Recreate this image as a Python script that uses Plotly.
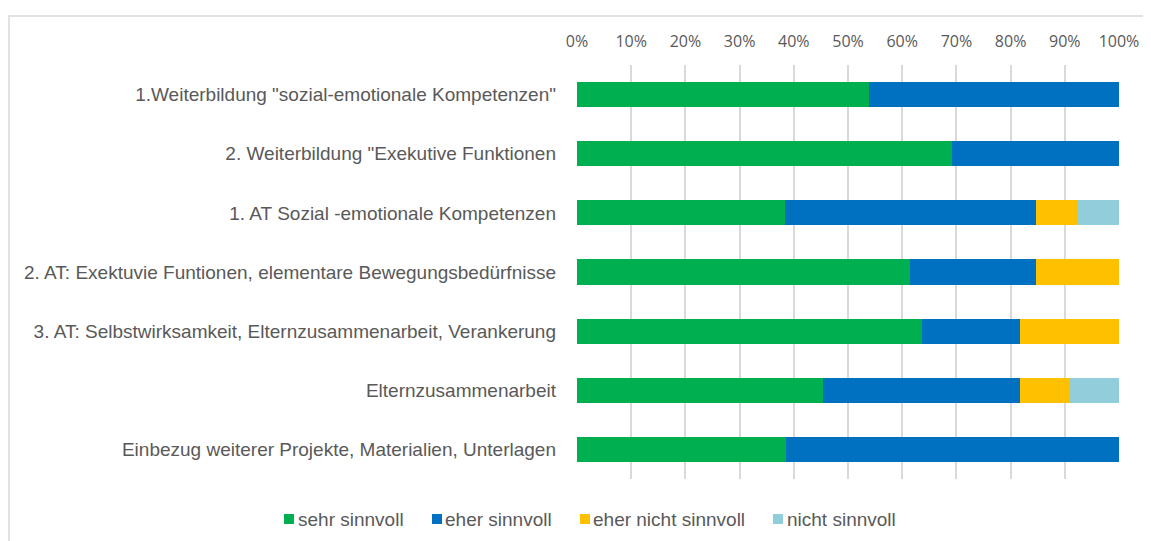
import plotly.graph_objects as go

categories = [
    '1.Weiterbildung "sozial-emotionale Kompetenzen"',
    '2. Weiterbildung "Exekutive Funktionen',
    '1. AT Sozial -emotionale Kompetenzen',
    '2. AT: Exektuvie Funtionen, elementare Bewegungsbedürfnisse',
    '3. AT: Selbstwirksamkeit, Elternzusammenarbeit, Verankerung',
    'Elternzusammenarbeit',
    'Einbezug weiterer Projekte, Materialien, Unterlagen',
]
series_names = ["sehr sinnvoll", "eher sinnvoll", "eher nicht sinnvoll", "nicht sinnvoll"]
sehr_sinnvoll = [53.8, 69.2, 38.5, 61.5, 63.6, 45.5, 38.5]
eher_sinnvoll = [46.2, 30.8, 46.2, 23.1, 18.2, 36.4, 61.5]
eher_nicht_sinnvoll = [0, 0, 7.7, 15.4, 18.2, 9.1, 0]
nicht_sinnvoll = [0, 0, 7.7, 0, 0, 9.1, 0]
tick_vals = [0, 10, 20, 30, 40, 50, 60, 70, 80, 90, 100]
tick_text = ["0%", "10%", "20%", "30%", "40%", "50%", "60%", "70%", "80%", "90%", "100%"]

colors = ["#00B050", "#0070C0", "#FFC000", "#92CDDC"]
values = [sehr_sinnvoll, eher_sinnvoll, eher_nicht_sinnvoll, nicht_sinnvoll]

fig = go.Figure()
for name, vals, col in zip(series_names, values, colors):
    fig.add_trace(go.Bar(
        y=categories, x=vals, name=name, orientation="h",
        marker=dict(color=col, line=dict(width=0)),
        showlegend=False,
    ))

# page body adds an 8px offset; figure coordinates = screenshot coordinates - 8
OFF = 8
W, H = 1151 - OFF, 541 - OFF
L, R, T, B = 577 - OFF, 32, 65 - OFF, 62
pw, ph = W - L - R, H - T - B


def px_x(p):
    return (p - OFF - L) / pw


def px_y(p):
    return (H - B - (p - OFF)) / ph


text_col = "#595959"
font_fam = "Liberation Sans, Arial"

shapes = [dict(
    type="rect", xref="paper", yref="paper",
    x0=px_x(9), x1=px_x(1180), y0=px_y(16), y1=px_y(580),
    line=dict(color="#D9D9D9", width=1.5), fillcolor="rgba(0,0,0,0)",
    layer="below",
)]
annotations = []

# custom legend (square swatch + label), placed like the reference
legend_square_x = [284, 432, 580, 773]
legend_text_x = [298, 445, 593, 787]
legend_y = 519
for name, col, sx, tx in zip(series_names, colors, legend_square_x, legend_text_x):
    shapes.append(dict(
        type="rect", xref="paper", yref="paper",
        x0=px_x(sx), x1=px_x(sx + 10), y0=px_y(legend_y - 5), y1=px_y(legend_y + 5),
        line=dict(width=0), fillcolor=col,
    ))
    annotations.append(dict(
        xref="paper", yref="paper", x=px_x(tx), y=px_y(legend_y),
        xanchor="left", yanchor="middle", text=name, showarrow=False,
        borderpad=0, borderwidth=0,
        font=dict(family=font_fam, size=19, color=text_col),
    ))

fig.update_layout(
    width=W, height=H,
    barmode="stack", barnorm="percent", bargap=0.575,
    margin=dict(l=L, r=R, t=T, b=B, autoexpand=False),
    paper_bgcolor="white", plot_bgcolor="white",
    font=dict(family=font_fam, color=text_col),
    showlegend=False,
    xaxis=dict(
        side="top", range=[0, 100], tickvals=tick_vals, ticktext=tick_text,
        showgrid=True, gridcolor="#D9D9D9", gridwidth=1.5,
        zeroline=False, showline=False, ticks="",
        tickfont=dict(family="Open Sans", size=16, color=text_col),
        ticklabelstandoff=14,
    ),
    yaxis=dict(
        autorange="reversed", showgrid=False, showline=False, ticks="",
        tickfont=dict(family=font_fam, size=19, color=text_col),
        ticklabelstandoff=20,
    ),
    shapes=shapes,
    annotations=annotations,
)

fig.write_html("out.html")
